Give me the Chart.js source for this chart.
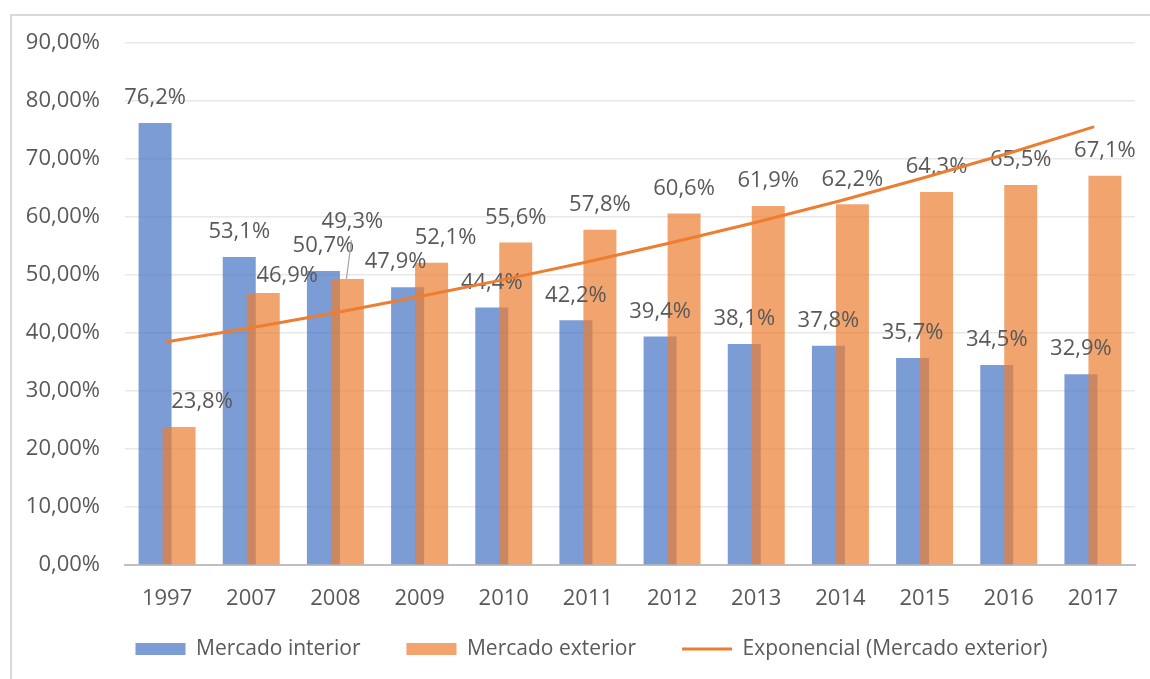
<!DOCTYPE html>
<html lang="es">
<head>
<meta charset="utf-8">
<title>Mercado interior / exterior</title>
<script src="https://cdn.jsdelivr.net/npm/chart.js@4.4.1/dist/chart.umd.min.js"></script>
<style>
  html, body { margin: 0; padding: 0; background: #fff; }
  .marco {
    position: absolute; left: 10px; top: 14px; right: 0; bottom: 0;
    border-left: 2px solid #d9d9d9; border-top: 2px solid #d9d9d9;
  }
  #grafico { position: absolute; left: 0; top: 0; }
</style>
</head>
<body>
<div class="marco"></div>
<canvas id="grafico" width="1150" height="679"></canvas>
<script>
/* Cuota de mercado interior / exterior, 1997 y 2007-2017 */

const anios = ["1997", "2007", "2008", "2009", "2010", "2011", "2012", "2013", "2014", "2015", "2016", "2017"];
const mercadoInterior = [76.2, 53.1, 50.7, 47.9, 44.4, 42.2, 39.4, 38.1, 37.8, 35.7, 34.5, 32.9];
const mercadoExterior = [23.8, 46.9, 49.3, 52.1, 55.6, 57.8, 60.6, 61.9, 62.2, 64.3, 65.5, 67.1];
const tendencia = [38.5, 40.9, 43.5, 46.3, 49.2, 52.3, 55.6, 59.1, 62.8, 66.8, 71.0, 75.5];
const ticksEje = [0, 10, 20, 30, 40, 50, 60, 70, 80, 90];

const COR = {
  azul: "rgba(68, 114, 196, 0.7)",
  naranja: "rgba(237, 125, 49, 0.7)",
  linea: "#ED7D31",
  texto: "#595959",
  grid: "#e8e8e8",
  eje: "#bfbfbf",
};
const FUENTE = "'Open Sans', sans-serif";

// desplazamientos manuales de algunas etiquetas [dx, dy, guía]
const ajusteEtiquetas = {
  0: { 3: [-12, 0] },
  1: { 0: [23, 0], 1: [24, 8], 2: [5, -32, true], 3: [14, 0] },
};

const pct1 = (v) => v.toFixed(1).replace(".", ",") + "%";
const pct2 = (v) => v.toFixed(2).replace(".", ",") + "%";

/* ---------- Plugins ---------- */
// Las barras naranjas se pintan encima de las azules (solapamiento)
const ordenBarras = {
  id: "ordenBarras",
  beforeDatasetDraw(chart, args) {
    if (args.index === 0) return false;
    if (args.index === 1) chart.getDatasetMeta(0).controller.draw();
  },
  afterDatasetDraw(chart, args) {
    if (args.index !== 1) return;
    const ctx = chart.ctx;
    ctx.save();
    ctx.font = "22px " + FUENTE;
    ctx.fillStyle = COR.texto;
    ctx.textAlign = "center";
    ctx.textBaseline = "middle";
    [0, 1].forEach((ds) => {
      const valores = chart.data.datasets[ds].data;
      chart.getDatasetMeta(ds).data.forEach((bar, i) => {
        const aj = (ajusteEtiquetas[ds] || {})[i] || [0, 0];
        const x = bar.x + aj[0];
        const y = bar.y - 25 + aj[1];
        if (aj[2]) {
          ctx.strokeStyle = "#a6a6a6";
          ctx.lineWidth = 1.2;
          ctx.beginPath();
          ctx.moveTo(x - 1, y + 18);
          ctx.lineTo(bar.x - 1, bar.y);
          ctx.stroke();
        }
        ctx.fillText(pct1(valores[i]), x, y);
      });
    });
    ctx.restore();
  },
};

// Leyenda un poco más a la derecha y más arriba
const moverLeyenda = {
  id: "moverLeyenda",
  afterLayout(chart) {
    const l = chart.legend;
    l.left += 24;
    l.right += 24;
    l.top -= 17.5;
    l.bottom -= 17.5;
  },
};

/* ---------- Gráfico ---------- */
new Chart(document.getElementById("grafico"), {
  type: "bar",
  data: {
    labels: anios,
    datasets: [
      {
        label: "Mercado interior",
        data: mercadoInterior,
        backgroundColor: COR.azul,
        borderWidth: 0,
        pointStyle: "rect",
        categoryPercentage: 0.57,
        barPercentage: 1.375,
      },
      {
        label: "Mercado exterior",
        data: mercadoExterior,
        backgroundColor: COR.naranja,
        borderWidth: 0,
        pointStyle: "rect",
        categoryPercentage: 0.57,
        barPercentage: 1.375,
      },
      {
        type: "line",
        label: "Exponencial (Mercado exterior)",
        data: tendencia,
        borderColor: COR.linea,
        backgroundColor: COR.linea,
        borderWidth: 3,
        borderCapStyle: "round",
        pointRadius: 0,
        pointStyle: "line",
        order: -1,
      },
    ],
  },
  options: {
    responsive: false,
    devicePixelRatio: 1,
    animation: false,
    layout: { padding: { left: 0, right: 15, top: 43, bottom: -8 } },
    plugins: {
      tooltip: { enabled: false },
      legend: {
        position: "bottom",
        labels: {
          usePointStyle: true,
          pointStyleWidth: 50,
          boxHeight: 12,
          padding: 46,
          color: COR.texto,
          font: { family: FUENTE, size: 21 },
          sort: (a, b) => a.datasetIndex - b.datasetIndex,
        },
      },
    },
    scales: {
      x: {
        grid: { display: false },
        border: { display: true, color: COR.eje, width: 2 },
        ticks: { color: COR.texto, padding: 13, font: { family: FUENTE, size: 22 } },
        afterFit: (s) => { s.height = 45; },
      },
      y: {
        min: 0,
        max: 90,
        afterBuildTicks: (s) => { s.ticks = ticksEje.map((v) => ({ value: v })); },
        grid: { color: COR.grid, lineWidth: 1.5, drawTicks: false },
        border: { display: false },
        ticks: {
          color: COR.texto,
          padding: 25,
          font: { family: FUENTE, size: 22 },
          callback: (v) => pct2(v),
        },
        afterFit: (s) => { s.width = 125; },
      },
    },
  },
  plugins: [ordenBarras, moverLeyenda],
});
</script>
</body>
</html>
